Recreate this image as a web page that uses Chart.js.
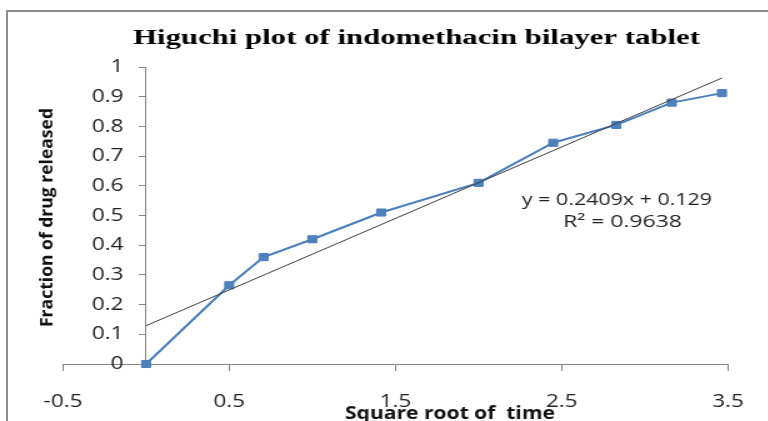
<!DOCTYPE html>
<html><head><meta charset="utf-8">
<script src="https://cdn.jsdelivr.net/npm/chart.js@4.4.1/dist/chart.umd.min.js"></script>
<style>
html,body{margin:0;padding:0;background:#fff;overflow:hidden;width:768px;height:421px;}
#wrap{position:absolute;left:0;top:0;width:615px;height:421px;transform:scaleX(1.25);transform-origin:0 0;}
#frame{position:absolute;left:6px;top:10px;width:900px;height:600px;border-left:2px solid #8c8c8c;border-top:2px solid #8c8c8c;pointer-events:none;}
</style></head><body>
<div id="wrap"><canvas id="c" width="615" height="421"></canvas></div>
<div id="frame"></div>
<script>
// ---- data ----
const sqrtTime = [0, 0.5, 0.707, 1, 1.414, 2, 2.449, 2.828, 3.162, 3.464];
const fractionReleased = [0, 0.265, 0.36, 0.42, 0.51, 0.61, 0.745, 0.805, 0.88, 0.912];
const trendX = [0, 3.464];
const trendY = [0.129, 0.963];
const xTicks = [-0.5, 0.5, 1.5, 2.5, 3.5];
const yTicks = [0, 0.1, 0.2, 0.3, 0.4, 0.5, 0.6, 0.7, 0.8, 0.9, 1];
const titleText = 'Higuchi plot of indomethacin bilayer tablet';
const xTitle = 'Square root of  time';
const yTitle = 'Fraction of drug released';
const eqLines = ['y = 0.2409x + 0.129', 'R\u00b2 = 0.9638'];

const S = 1.25; // horizontal stretch of the wrapper

// linear scale whose labels keep a gap from an axis placed inside the chart area
class OffsetLinearScale extends Chart.LinearScale {
  _computeLabelItems(chartArea) {
    const items = super._computeLabelItems(chartArea);
    const gap = this.options.ticks.padding;
    items.forEach(it => { it.options.translation[0] -= gap; });
    return items;
  }
}
OffsetLinearScale.id = 'offsetLinear';
OffsetLinearScale.defaults = Chart.LinearScale.defaults;
Chart.register(OffsetLinearScale);

function fitText(ctx, text, font, cx, baseline, targetW, color) {
  ctx.save();
  ctx.font = font;
  const w = ctx.measureText(text).width;
  ctx.translate(cx, baseline);
  ctx.scale(targetW / w, 1);
  ctx.textAlign = 'center';
  ctx.textBaseline = 'alphabetic';
  ctx.fillStyle = color;
  ctx.fillText(text, 0, 0);
  ctx.restore();
}

const textPlugin = {
  id: 'texts',
  afterDraw(chart) {
    const ctx = chart.ctx;
    fitText(ctx, titleText, 'bold 20px "Liberation Serif"', 416.5 / S, 43.5, 567 / S, '#000');
    fitText(ctx, xTitle, 'bold 17.5px "Open Sans"', 450 / S, 419, 210 / S, '#111');
    fitText(ctx, eqLines[0], '17px "Open Sans"', 617 / S, 205, 190 / S, '#222');
    fitText(ctx, eqLines[1], '17px "Open Sans"', 622.5 / S, 227, 119 / S, '#222');
    // vertical axis title (counter-stretched)
    ctx.save();
    ctx.font = 'bold 18px "Open Sans"';
    const w = ctx.measureText(yTitle).width;
    ctx.translate(53 / S, 217.5);
    ctx.scale(1 / S, 1);
    ctx.rotate(-Math.PI / 2);
    ctx.scale(219 / w, 1);
    ctx.textAlign = 'center';
    ctx.textBaseline = 'alphabetic';
    ctx.fillStyle = '#111';
    ctx.fillText(yTitle, 0, 0);
    ctx.restore();
  }
};

const axisGray = '#868686';
new Chart(document.getElementById('c'), {
  type: 'scatter',
  data: {
    datasets: [
      {
        label: 'Linear trendline',
        data: trendX.map((x, i) => ({x: x, y: trendY[i]})),
        showLine: true, borderColor: '#3c3c3c', borderWidth: 1,
        pointRadius: 0, fill: false, clip: false
      },
      {
        label: 'Fraction of drug released',
        data: sqrtTime.map((x, i) => ({x: x, y: fractionReleased[i]})),
        showLine: true, borderColor: '#4a7ebb', borderWidth: 2,
        pointStyle: 'rect', pointRadius: 5,
        pointBackgroundColor: '#4f81bd', pointBorderColor: '#4a7ebb', pointBorderWidth: 1,
        fill: false, clip: false
      }
    ]
  },
  options: {
    responsive: false, animation: false, devicePixelRatio: 1,
    layout: {padding: {left: 50.4, right: 30.2, top: 67, bottom: 0}},
    plugins: {legend: {display: false}, tooltip: {enabled: false}, title: {display: false}},
    scales: {
      x: {
        type: 'linear', position: 'bottom', min: -0.5, max: 3.5,
        afterBuildTicks: s => { s.ticks = xTicks.map(v => ({value: v})); },
        afterFit: s => { s.height = 57; },
        grid: {drawOnChartArea: false, drawTicks: true, tickLength: 7, color: axisGray, lineWidth: 1},
        border: {display: true, color: axisGray, width: 1},
        ticks: {font: {family: '"Open Sans"', size: 18}, color: '#222', padding: 20,
                maxRotation: 0, autoSkip: false, callback: v => String(v)}
      },
      y: {
        type: 'offsetLinear', position: {x: 0}, min: 0, max: 1,
        afterBuildTicks: s => { s.ticks = yTicks.map(v => ({value: v})); },
        afterFit: s => { s.width = 0; },
        grid: {drawOnChartArea: false, drawTicks: true, tickLength: 5, color: axisGray, lineWidth: 1},
        border: {display: true, color: axisGray, width: 1},
        ticks: {font: {family: '"Open Sans"', size: 18}, color: '#222', padding: 18,
                autoSkip: false, callback: v => String(v)}
      }
    }
  },
  plugins: [textPlugin]
});
</script>
</body></html>
